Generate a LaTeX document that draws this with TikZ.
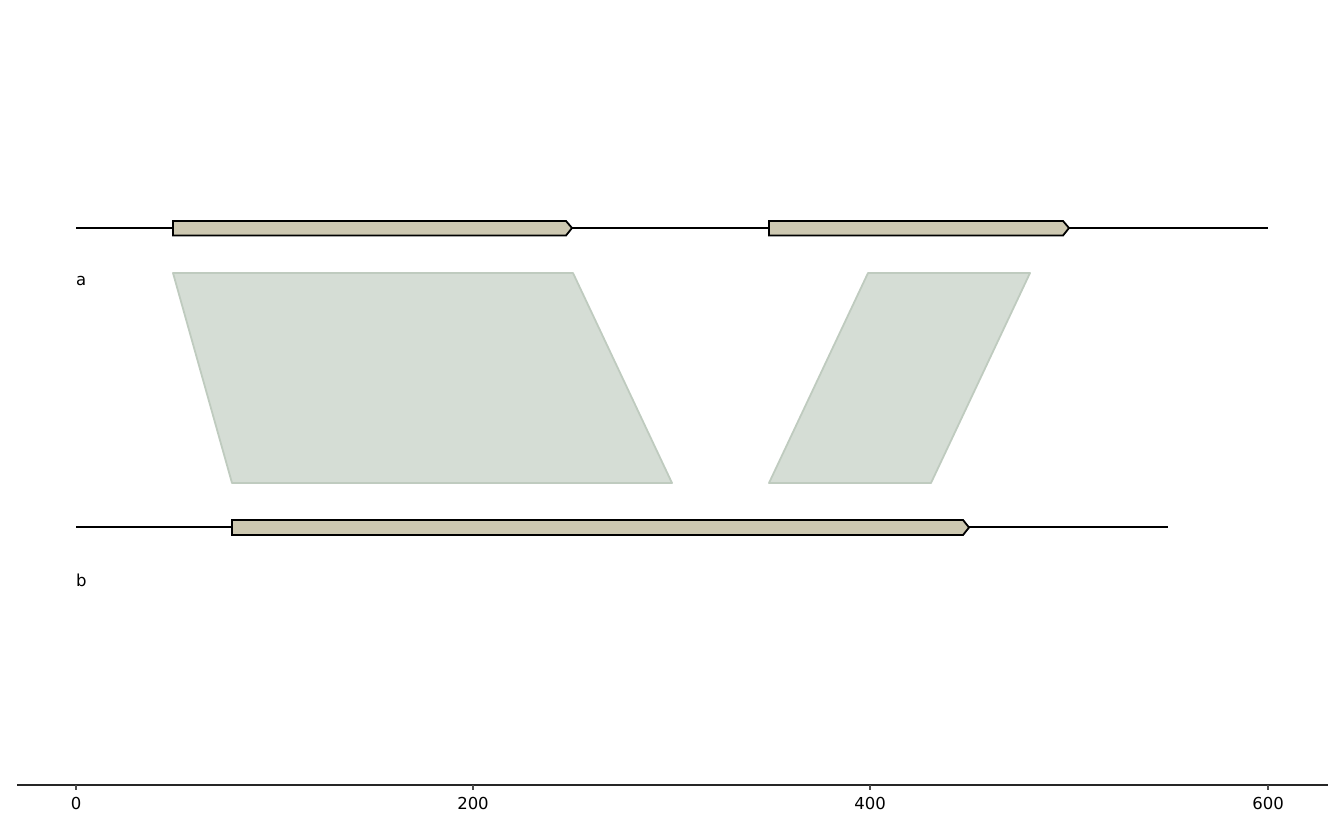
\documentclass[tikz,border=0pt]{standalone}
\usepackage{fontspec}
\setmainfont{DejaVu Sans}
\begin{document}
\begin{tikzpicture}[x=1pt,y=-1pt,
  seqline/.style={line width=1.8pt,black},
  gene/.style={draw=black,line width=1.8pt,fill=genefill,line join=miter},
  homol/.style={draw=homstroke,fill=homfill,line width=1.8pt,line join=round},
  lab/.style={font=\fontsize{16.5}{18}\selectfont,inner sep=0pt},
]
\definecolor{genefill}{HTML}{CDC8B1}
\definecolor{homfill}{HTML}{D5DDD5}
\definecolor{homstroke}{HTML}{BFCBBF}
\useasboundingbox (0,0) rectangle (1344,830);
% homology polygons
\draw[homol] (173,273) -- (573,273) -- (672,483) -- (232,483) -- cycle;
\draw[homol] (868,273) -- (1030,273) -- (931,483) -- (769,483) -- cycle;
% sequence a
\coordinate (a0) at (76,228); \coordinate (a1) at (1268,228);
\draw[seqline] (a0) -- (a1);
\draw[gene] (173,221) -- (566,221) -- (572,228) -- (566,235.5) -- (173,235.5) -- cycle;
\draw[gene] (769,221) -- (1063,221) -- (1069,228) -- (1063,235.5) -- (769,235.5) -- cycle;
\node[lab,anchor=west] (la) at (76,281) {a};
% sequence b
\coordinate (b0) at (76,527); \coordinate (b1) at (1168,527);
\draw[seqline] (b0) -- (b1);
\draw[gene] (232,520) -- (963,520) -- (969,527.5) -- (963,535) -- (232,535) -- cycle;
\node[lab,anchor=west] (lb) at (76,580) {b};
% axis
\coordinate (ax0) at (17,785); \coordinate (ax1) at (1328,785);
\draw[line width=1.8pt,black!85] (ax0) -- (ax1);
\foreach \v/\x in {0/76,200/473,400/870,600/1268}{
  \draw[line width=1.3pt,black!70] (\x,785) -- (\x,789.5);
  \node[lab] (t\v) at (\x,803) {\v};
}
\end{tikzpicture}
\end{document}
